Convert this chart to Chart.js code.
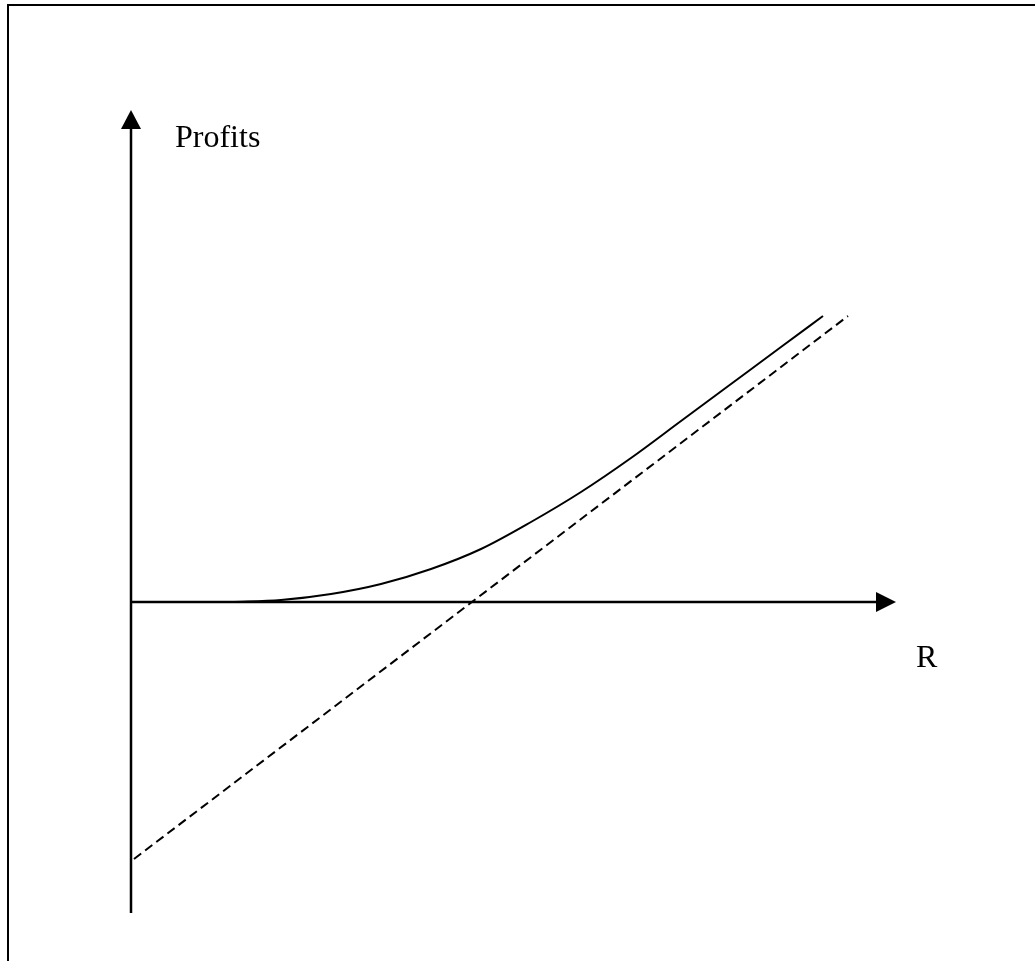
<!DOCTYPE html>
<html>
<head>
<meta charset="utf-8">
<title>Profits vs R</title>
<script src="https://cdn.jsdelivr.net/npm/chart.js@4.4.1/dist/chart.umd.min.js"></script>
<style>
    html, body {
        margin: 0;
        padding: 0;
        background: #fff;
        overflow: hidden;
        width: 1035px;
        height: 961px;
    }
    .frame {
        position: absolute;
        left: 7px;
        top: 4px;
        width: 1100px;
        height: 1100px;
        border-top: 2px solid #000;
        border-left: 2px solid #000;
    }
    #myChart {
        position: absolute;
        left: 0;
        top: 0;
    }
</style>
</head>
<body>
<div class="frame"></div>
<canvas id="myChart" width="1035" height="961"></canvas>
<script>
// solid curve: profits with the option
const curveR = [1.0, 1.5, 2.0, 2.5, 3.0, 3.5, 4.0, 4.5, 5.0, 5.5, 6.0, 6.5, 6.92];
const curveProfit = [0, 0.02, 0.08, 0.18, 0.33, 0.53, 0.80, 1.10, 1.44, 1.81, 2.18, 2.55, 2.86];

// dashed straight line
const lineR = [0.03, 7.17];
const lineProfit = [-2.57, 2.86];

// axis ranges
const rMin = 0;
const rMax = 7.65;
const profitMin = -3.11;
const profitMax = 4.92;

const xLabel = 'R';
const yLabel = 'Profits';

const ctx = document.getElementById('myChart');

function toPoints(xs, ys) {
    return xs.map((x, i) => ({ x: x, y: ys[i] }));
}

// draws the two arrows and the axis names
const arrowAxes = {
    id: 'arrowAxes',
    afterDatasetsDraw(chart) {
        const c = chart.ctx;
        const x = chart.scales.x;
        const y = chart.scales.y;
        const x0 = x.getPixelForValue(0);
        const y0 = y.getPixelForValue(0);
        const xEnd = x.getPixelForValue(rMax);
        const yTop = y.getPixelForValue(profitMax);
        const yBottom = y.getPixelForValue(profitMin);

        c.save();
        c.strokeStyle = '#000';
        c.fillStyle = '#000';
        c.lineWidth = 2.5;

        // horizontal axis
        c.beginPath();
        c.moveTo(x0, y0);
        c.lineTo(xEnd - 18, y0);
        c.stroke();
        c.beginPath();
        c.moveTo(xEnd, y0);
        c.lineTo(xEnd - 20, y0 - 10);
        c.lineTo(xEnd - 20, y0 + 10);
        c.closePath();
        c.fill();

        // vertical axis
        c.beginPath();
        c.moveTo(x0, yBottom);
        c.lineTo(x0, yTop + 17);
        c.stroke();
        c.beginPath();
        c.moveTo(x0, yTop);
        c.lineTo(x0 - 10, yTop + 19);
        c.lineTo(x0 + 10, yTop + 19);
        c.closePath();
        c.fill();

        c.font = '32px "Liberation Serif", "Times New Roman", serif';
        c.textBaseline = 'alphabetic';
        c.textAlign = 'left';
        c.fillText(yLabel, x0 + 44, yTop + 37);
        c.fillText(xLabel, xEnd + 20, y0 + 65);
        c.restore();
    }
};

const myChart = new Chart(ctx, {
    type: 'scatter',
    data: {
        datasets: [{
            label: 'curve',
            data: toPoints(curveR, curveProfit),
            showLine: true,
            borderColor: '#000',
            borderWidth: 2,
            pointRadius: 0,
            cubicInterpolationMode: 'monotone',
            fill: false
        }, {
            label: 'line',
            data: toPoints(lineR, lineProfit),
            showLine: true,
            borderColor: '#000',
            borderWidth: 2,
            borderDash: [9, 5],
            pointRadius: 0,
            fill: false
        }]
    },
    options: {
        responsive: false,
        animation: false,
        devicePixelRatio: 1,
        layout: {
            padding: { left: 131, right: 139, top: 110, bottom: 48 }
        },
        plugins: {
            legend: { display: false },
            tooltip: { enabled: false }
        },
        scales: {
            x: {
                type: 'linear',
                display: false,
                min: rMin,
                max: rMax
            },
            y: {
                type: 'linear',
                display: false,
                min: profitMin,
                max: profitMax
            }
        }
    },
    plugins: [arrowAxes]
});
</script>
</body>
</html>
